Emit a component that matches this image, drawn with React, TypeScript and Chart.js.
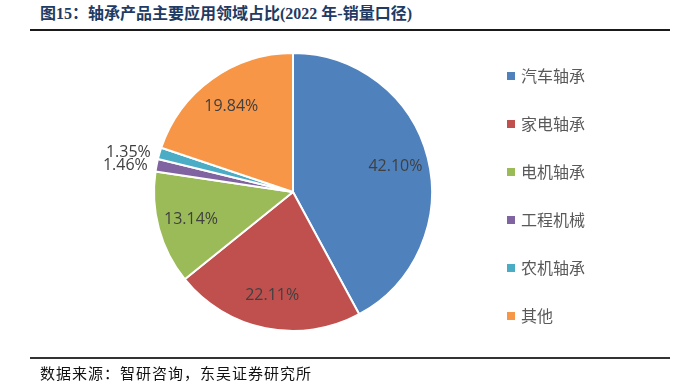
import React, { useEffect, useRef } from "react";
import { Chart, registerables } from "chart.js";

Chart.register(...registerables);

const categories = ["汽车轴承", "家电轴承", "电机轴承", "工程机械", "农机轴承", "其他"];
const shares = [42.1, 22.11, 13.14, 1.46, 1.35, 19.84];
const shareLabels = ["42.10%", "22.11%", "13.14%", "1.46%", "1.35%", "19.84%"];
const colors = ["#4f81bd", "#c0504d", "#9bbb59", "#8064a2", "#4bacc6", "#f79646"];
const titleText = "图15：轴承产品主要应用领域占比(2022 年-销量口径)";
const sourceText = "数据来源：智研咨询，东吴证券研究所";

const labelPlugin = {
  id: "sliceLabels",
  afterDatasetsDraw(chart: any) {
    const ctx = chart.ctx;
    const meta = chart.getDatasetMeta(0);
    ctx.save();
    ctx.font = '16px "Open Sans", "Noto Sans", sans-serif';
    ctx.fillStyle = "#404040";
    ctx.textBaseline = "middle";
    meta.data.forEach((arc: any, i: number) => {
      const mid = (arc.startAngle + arc.endAngle) / 2;
      const r = arc.outerRadius;
      if (shares[i] >= 5) {
        ctx.textAlign = "center";
        ctx.fillText(shareLabels[i], arc.x + Math.cos(mid) * r * 0.76, arc.y + Math.sin(mid) * r * 0.76);
      } else {
        const rr = r + 9;
        ctx.textAlign = Math.cos(mid) < 0 ? "right" : "left";
        ctx.fillText(shareLabels[i], arc.x + Math.cos(mid) * rr, arc.y + Math.sin(mid) * rr + 2);
      }
    });
    ctx.restore();
  },
};

const legendPlugin = {
  id: "sideLegend",
  afterDraw(chart: any) {
    const ctx = chart.ctx;
    const area = chart.chartArea;
    const x0 = area.right + 74;
    const y0 = 76;
    const step = 48;
    ctx.save();
    ctx.font = '16px "Noto Sans CJK SC", sans-serif';
    ctx.textBaseline = "middle";
    ctx.textAlign = "left";
    categories.forEach((c, i) => {
      const y = y0 + i * step;
      ctx.fillStyle = colors[i];
      ctx.fillRect(x0, y - 4, 8, 8);
      ctx.fillStyle = "#595959";
      ctx.fillText(c, x0 + 14, y);
    });
    ctx.restore();
  },
};

export default function App() {
  const ref = useRef<HTMLCanvasElement>(null);
  useEffect(() => {
    document.body.style.margin = "0";
    const chart = new Chart(ref.current!, {
      type: "pie",
      data: {
        labels: categories,
        datasets: [
          {
            data: shares,
            backgroundColor: colors,
            borderColor: "#ffffff",
            borderWidth: 2,
          },
        ],
      },
      options: {
        animation: false,
        responsive: false,
        layout: { padding: { left: 153, top: 52, right: 253, bottom: 60 } },
        plugins: { legend: { display: false }, tooltip: { enabled: false } },
      },
      plugins: [labelPlugin, legendPlugin],
    });
    return () => chart.destroy();
  }, []);

  return (
    <div style={{ position: "relative", width: 686, height: 392, background: "#fff", overflow: "hidden" }}>
      <div
        style={{
          position: "absolute",
          left: 40,
          top: 4,
          fontFamily: '"Liberation Serif", "Noto Sans CJK SC", serif',
          fontWeight: "bold",
          fontSize: 16,
          color: "#1f3b63",
          whiteSpace: "nowrap",
          lineHeight: "20px",
        }}
      >
        {titleText}
      </div>
      <div style={{ position: "absolute", left: 30, top: 29, width: 640, height: 2, background: "#1a1a1a" }} />
      <canvas ref={ref} width={686} height={392} style={{ position: "absolute", left: 0, top: 0 }} />
      <div style={{ position: "absolute", left: 30, top: 357, width: 640, height: 2, background: "#333" }} />
      <div
        style={{
          position: "absolute",
          left: 40,
          top: 364,
          fontFamily: '"Liberation Serif", "Noto Sans CJK SC", serif',
          fontSize: 15,
          letterSpacing: 1,
          color: "#111",
          whiteSpace: "nowrap",
          lineHeight: "20px",
        }}
      >
        {sourceText}
      </div>
    </div>
  );
}
